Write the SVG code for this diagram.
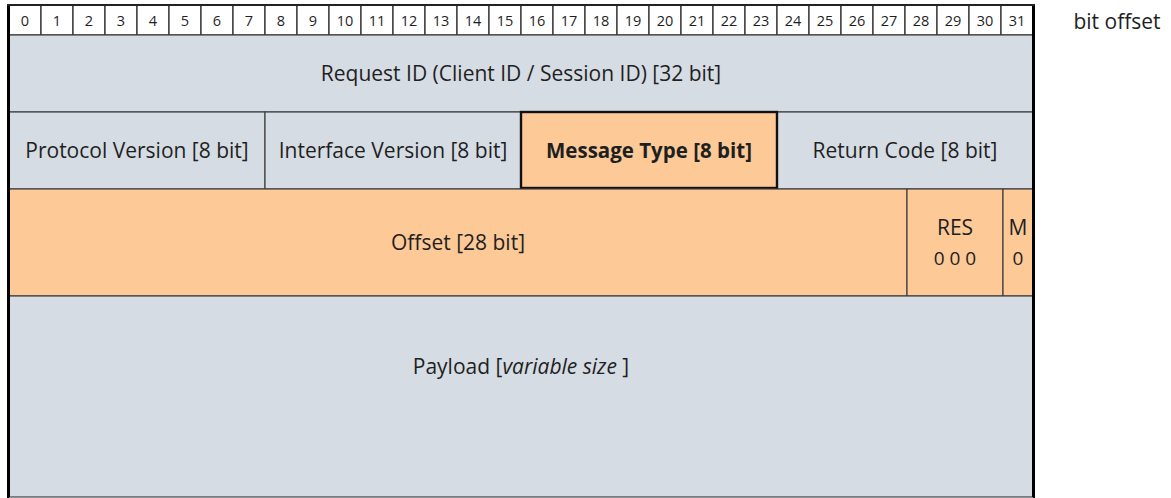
<svg xmlns="http://www.w3.org/2000/svg" width="1171" height="498" viewBox="0 0 1171 498">
<style>
.t{font-family:"Open Sans","Noto Sans","Liberation Sans",sans-serif;fill:#1F1F1F;text-anchor:middle}
.h{font-size:14.5px}
.l{font-size:21px}
.blue{fill:#D6DCE4;stroke:#404040;stroke-width:1.2}
.org{fill:#FCC997;stroke:#404040;stroke-width:1.2}
.cell{fill:#FFFFFF;stroke:#333333;stroke-width:1.3}
</style>
<rect width="1171" height="498" fill="#FFFFFF"/>
<g id="header">
<rect class="cell" x="9" y="5" width="32" height="30"/><text class="t h" x="25" y="25.5">0</text>
<rect class="cell" x="41" y="5" width="32" height="30"/><text class="t h" x="57" y="25.5">1</text>
<rect class="cell" x="73" y="5" width="32" height="30"/><text class="t h" x="89" y="25.5">2</text>
<rect class="cell" x="105" y="5" width="32" height="30"/><text class="t h" x="121" y="25.5">3</text>
<rect class="cell" x="137" y="5" width="32" height="30"/><text class="t h" x="153" y="25.5">4</text>
<rect class="cell" x="169" y="5" width="32" height="30"/><text class="t h" x="185" y="25.5">5</text>
<rect class="cell" x="201" y="5" width="32" height="30"/><text class="t h" x="217" y="25.5">6</text>
<rect class="cell" x="233" y="5" width="32" height="30"/><text class="t h" x="249" y="25.5">7</text>
<rect class="cell" x="265" y="5" width="32" height="30"/><text class="t h" x="281" y="25.5">8</text>
<rect class="cell" x="297" y="5" width="32" height="30"/><text class="t h" x="313" y="25.5">9</text>
<rect class="cell" x="329" y="5" width="32" height="30"/><text class="t h" x="345" y="25.5">10</text>
<rect class="cell" x="361" y="5" width="32" height="30"/><text class="t h" x="377" y="25.5">11</text>
<rect class="cell" x="393" y="5" width="32" height="30"/><text class="t h" x="409" y="25.5">12</text>
<rect class="cell" x="425" y="5" width="32" height="30"/><text class="t h" x="441" y="25.5">13</text>
<rect class="cell" x="457" y="5" width="32" height="30"/><text class="t h" x="473" y="25.5">14</text>
<rect class="cell" x="489" y="5" width="32" height="30"/><text class="t h" x="505" y="25.5">15</text>
<rect class="cell" x="521" y="5" width="32" height="30"/><text class="t h" x="537" y="25.5">16</text>
<rect class="cell" x="553" y="5" width="32" height="30"/><text class="t h" x="569" y="25.5">17</text>
<rect class="cell" x="585" y="5" width="32" height="30"/><text class="t h" x="601" y="25.5">18</text>
<rect class="cell" x="617" y="5" width="32" height="30"/><text class="t h" x="633" y="25.5">19</text>
<rect class="cell" x="649" y="5" width="32" height="30"/><text class="t h" x="665" y="25.5">20</text>
<rect class="cell" x="681" y="5" width="32" height="30"/><text class="t h" x="697" y="25.5">21</text>
<rect class="cell" x="713" y="5" width="32" height="30"/><text class="t h" x="729" y="25.5">22</text>
<rect class="cell" x="745" y="5" width="32" height="30"/><text class="t h" x="761" y="25.5">23</text>
<rect class="cell" x="777" y="5" width="32" height="30"/><text class="t h" x="793" y="25.5">24</text>
<rect class="cell" x="809" y="5" width="32" height="30"/><text class="t h" x="825" y="25.5">25</text>
<rect class="cell" x="841" y="5" width="32" height="30"/><text class="t h" x="857" y="25.5">26</text>
<rect class="cell" x="873" y="5" width="32" height="30"/><text class="t h" x="889" y="25.5">27</text>
<rect class="cell" x="905" y="5" width="32" height="30"/><text class="t h" x="921" y="25.5">28</text>
<rect class="cell" x="937" y="5" width="32" height="30"/><text class="t h" x="953" y="25.5">29</text>
<rect class="cell" x="969" y="5" width="32" height="30"/><text class="t h" x="985" y="25.5">30</text>
<rect class="cell" x="1001" y="5" width="32" height="30"/><text class="t h" x="1017" y="25.5">31</text>
</g>
<g id="bit-offset-label"><text class="t" x="1117" y="29" style="font-size:21px">bit offset</text></g>
<g id="request-id">
<rect class="blue" x="9" y="35" width="1024" height="77"/>
<text class="t l" x="521" y="81">Request ID (Client ID / Session ID) [32 bit]</text>
</g>
<g id="protocol-version">
<rect class="blue" x="9" y="112" width="256" height="77"/>
<text class="t l" x="137" y="158">Protocol Version [8 bit]</text>
</g>
<g id="interface-version">
<rect class="blue" x="265" y="112" width="256" height="77"/>
<text class="t l" x="393" y="158">Interface Version [8 bit]</text>
</g>
<g id="return-code">
<rect class="blue" x="777" y="112" width="256" height="77"/>
<text class="t l" x="905" y="158">Return Code [8 bit]</text>
</g>
<g id="message-type">
<rect x="521" y="112" width="256" height="76" fill="#FCC997" stroke="#111111" stroke-width="2.4"/>
<text class="t l" x="649" y="158" font-weight="bold" style="font-size:20.5px">Message Type [8 bit]</text>
</g>
<g id="offset">
<rect class="org" x="9" y="189" width="898" height="107"/>
<text class="t l" x="458" y="250">Offset [28 bit]</text>
</g>
<g id="res">
<rect class="org" x="907" y="189" width="96" height="107"/>
<text class="t l" x="955" y="235">RES</text>
<text class="t" x="955" y="265" style="font-size:19px">0 0 0</text>
</g>
<g id="m">
<rect class="org" x="1003" y="189" width="30" height="107"/>
<text class="t l" x="1018" y="235">M</text>
<text class="t" x="1018" y="265" style="font-size:19px">0</text>
</g>
<g id="payload">
<rect x="9" y="296" width="1024" height="201" fill="#D6DCE4" stroke="#404040" stroke-width="1.2"/>
<text class="t l" x="521" y="374">Payload [<tspan font-style="italic">variable size</tspan> ]</text>
</g>
<g id="frame">
<line x1="8.5" y1="4" x2="8.5" y2="498" stroke="#000" stroke-width="3"/>
<line x1="1033.5" y1="4" x2="1033.5" y2="498" stroke="#000" stroke-width="3"/>
<line x1="7" y1="5" x2="1035" y2="5" stroke="#222" stroke-width="2"/>
<line x1="9" y1="497.5" x2="1033" y2="497.5" stroke="#8A8F96" stroke-width="1"/>
</g>
</svg>
